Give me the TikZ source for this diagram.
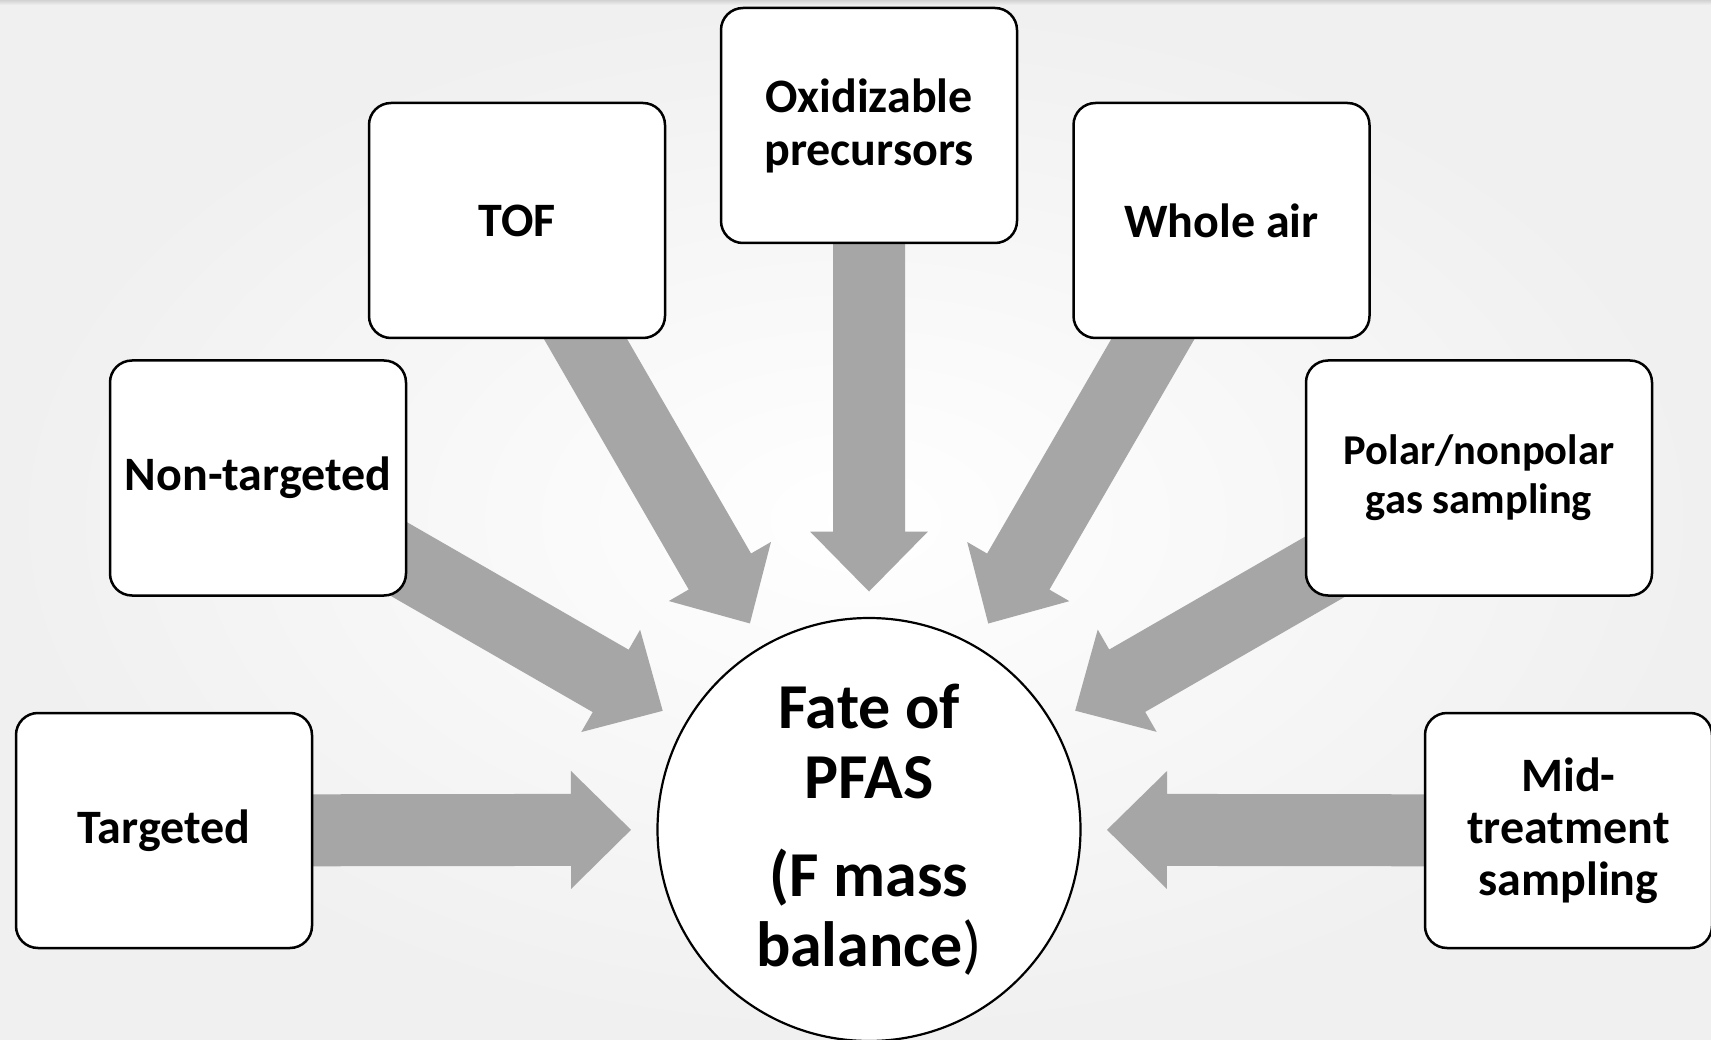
\documentclass[tikz,border=0pt]{standalone}
\usepackage{fontspec}
\setmainfont{Carlito}
\usetikzlibrary{calc}
\pgfdeclarelayer{bglayer}
\pgfdeclarelayer{arrowlayer}
\pgfsetlayers{bglayer,arrowlayer,main}
\definecolor{arrowgray}{HTML}{A6A6A6}
\definecolor{bgedge}{HTML}{F0F0F0}
\newcommand\blockarrow[2]{%
  \coordinate (hb) at ($(#2.center)!298pt!(#1.center)$);
  \fill[arrowgray] ($(#2.center)!238pt!(#1.center)$)
    -- ($(hb)!59pt!90:(#1.center)$) -- ($(hb)!36pt!90:(#1.center)$)
    -- ($(#1.center)!36pt!-90:(#2.center)$) -- ($(#1.center)!36pt!90:(#2.center)$)
    -- ($(hb)!36pt!-90:(#1.center)$) -- ($(hb)!59pt!-90:(#1.center)$) -- cycle;}
\begin{document}
\begin{tikzpicture}[x=1pt,y=-1pt,
  box/.style={draw, line width=2.5pt, rounded corners=22pt, fill=white,
    minimum width=296pt, minimum height=235pt, align=center, inner sep=0pt,
    font=\fontsize{48}{52}\selectfont\bfseries}]
\useasboundingbox (0,0) rectangle (1711,1040);
\begin{pgfonlayer}{bglayer}
\shade[inner color=white, outer color=bgedge] (0,0) rectangle (1711,1040);
\shade[top color=gray!35, bottom color=bgedge!60!white] (0,0) rectangle (1711,6);
\end{pgfonlayer}
\node[box] (tg) at (164,830.5) {Targeted};
\node[box] (nt) at (258,478) {Non-targeted};
\node[box] (tof) at (517,220.5) {TOF};
\node[box, font=\fontsize{48}{53}\selectfont\bfseries] (ox) at (869,125.5) {Oxidizable\\precursors};
\node[box] (wa) at (1221.5,220.5) {Whole air};
\node[box, minimum width=346pt, font=\fontsize{42.5}{49}\selectfont\bfseries] (pol) at (1479,478) {Polar/nonpolar\\gas sampling};
\node[box, minimum width=287pt] (mid) at (1568.5,830.5) {Mid-\\treatment\\sampling};
\node[circle, draw, line width=2.2pt, fill=white, minimum size=423pt, align=center, inner sep=0pt,
  font=\fontsize{64}{70}\selectfont\bfseries] (c) at (869,829.5) {Fate of\\PFAS\\[28pt](F mass\\balance\textmd{)}};
\begin{pgfonlayer}{arrowlayer}
\foreach \b in {tg,nt,tof,ox,wa,pol,mid}{\blockarrow{\b}{c}}
\end{pgfonlayer}
\end{tikzpicture}
\end{document}
